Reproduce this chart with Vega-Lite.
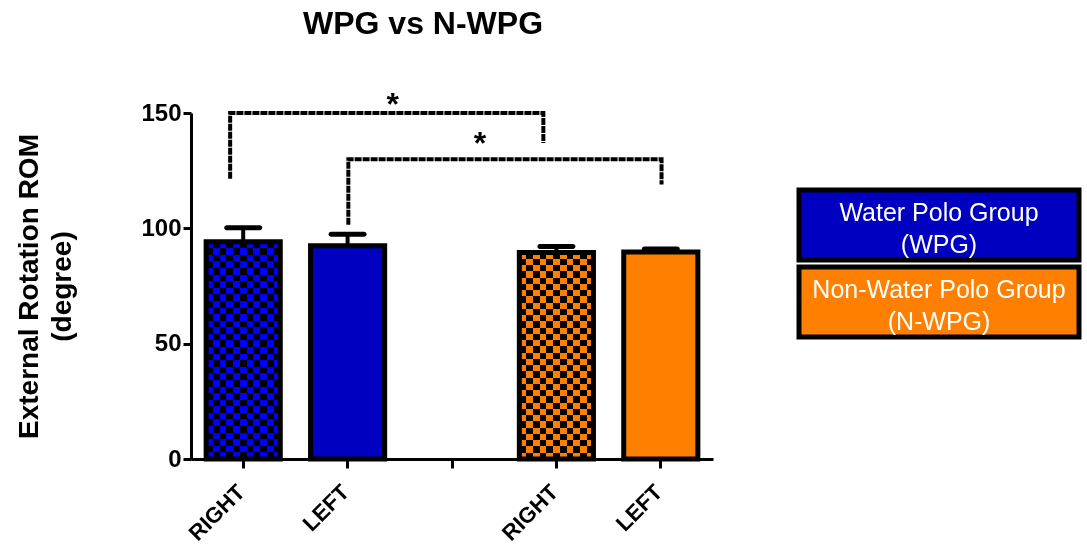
{
  "$schema": "https://vega.github.io/schema/vega-lite/v6.json",
  "background": "white",
  "padding": {"left": 15, "top": 7, "right": 0, "bottom": 0},
  "config": {
    "font": "Liberation Sans",
    "view": {"stroke": null},
    "axis": {"domainColor": "black", "domainWidth": 3, "tickColor": "black", "tickWidth": 3, "labelColor": "black", "labelFontWeight": "bold", "titleColor": "black", "titleFontWeight": "bold", "grid": false},
    "axisY": {"labelFontSize": 24, "tickSize": 8, "labelPadding": 2, "titleFontSize": 28, "titlePadding": 64, "titleLineHeight": 33},
    "axisX": {"labelFontSize": 22, "labelAngle": -45, "tickSize": 9, "labelPadding": 13, "labelOffset": -9}
  },
  "datasets": {
    "bars": [
      {"key": "WPG|RIGHT", "group": "WPG", "mean": 94.2, "hi": 100.2},
      {"key": "WPG|LEFT", "group": "WPG", "mean": 92.5, "hi": 97.4},
      {"key": "N-WPG|RIGHT", "group": "N-WPG", "mean": 89.5, "hi": 92.1},
      {"key": "N-WPG|LEFT", "group": "N-WPG", "mean": 89.7, "hi": 91.0}
    ],
    "brackets": [
      {"pair": 1, "key": "WPG|RIGHT", "val": 121.5, "ord": 1},
      {"pair": 1, "key": "WPG|RIGHT", "val": 150, "ord": 2},
      {"pair": 1, "key": "N-WPG|RIGHT", "val": 150, "ord": 3},
      {"pair": 1, "key": "N-WPG|RIGHT", "val": 137, "ord": 4},
      {"pair": 2, "key": "WPG|LEFT", "val": 101.5, "ord": 1},
      {"pair": 2, "key": "WPG|LEFT", "val": 130, "ord": 2},
      {"pair": 2, "key": "N-WPG|LEFT", "val": 130, "ord": 3},
      {"pair": 2, "key": "N-WPG|LEFT", "val": 119, "ord": 4}
    ],
    "stars": [
      {"pair": 1, "key": "gap", "val": 153.5, "mark": "*"},
      {"pair": 2, "key": "gap", "val": 136.5, "mark": "*"}
    ],
    "groups": [
      {"g": "WPG", "label": "Water Polo Group|(WPG)"},
      {"g": "N-WPG", "label": "Non-Water Polo Group|(N-WPG)"}
    ]
  },
  "spacing": 83,
  "hconcat": [
    {
      "width": 522,
      "height": 346,
      "title": {"text": "WPG vs N-WPG", "fontSize": 32, "fontWeight": "bold", "color": "black", "anchor": "middle", "dx": -29, "offset": 48},
      "data": {"name": "bars"},
      "layer": [
        {
          "mark": {"type": "rule", "strokeWidth": 4, "color": "black"},
          "encoding": {
            "x": {"field": "key", "type": "nominal", "title": null},
            "y": {"field": "mean", "type": "quantitative", "title": ["External Rotation ROM", "(degree)"]},
            "y2": {"field": "hi"}
          }
        },
        {
          "mark": {"type": "tick", "thickness": 5, "size": 38, "color": "black", "opacity": 1, "cornerRadius": 2.5},
          "encoding": {
            "x": {"field": "key", "type": "nominal", "title": null},
            "y": {"field": "hi", "type": "quantitative", "title": ["External Rotation ROM", "(degree)"]}
          }
        },
        {
          "mark": {"type": "bar"},
          "encoding": {
            "x": {"field": "key", "type": "nominal", "title": null,
              "scale": {"domain": ["WPG|RIGHT", "WPG|LEFT", "gap", "N-WPG|RIGHT", "N-WPG|LEFT"], "paddingInner": 0.29, "paddingOuter": 0.145},
              "axis": {"labelExpr": "indexof(datum.value, '|') > 0 ? split(datum.value, '|')[1] : ''"}},
            "y": {"field": "mean", "type": "quantitative", "title": ["External Rotation ROM", "(degree)"],
              "scale": {"domain": [0, 150], "nice": false},
              "axis": {"values": [0, 50, 100, 150]}},
            "color": {"field": "group", "type": "nominal", "scale": {"domain": ["WPG", "N-WPG"], "range": ["#0000C0", "#FF8000"]}, "legend": null}
          }
        },
        {
          "transform": [{"filter": "datum.key == 'WPG|RIGHT'"}],
          "mark": {"type": "bar", "fill": {"gradient": "linear", "x1": 0, "y1": 0, "x2": 1, "y2": 0, "stops": [{"offset":0,"color":"#00f"},{"offset":0.0909,"color":"#00f"},{"offset":0.0909,"color":"#000"},{"offset":0.1818,"color":"#000"},{"offset":0.1818,"color":"#00f"},{"offset":0.2727,"color":"#00f"},{"offset":0.2727,"color":"#000"},{"offset":0.3636,"color":"#000"},{"offset":0.3636,"color":"#00f"},{"offset":0.4545,"color":"#00f"},{"offset":0.4545,"color":"#000"},{"offset":0.5455,"color":"#000"},{"offset":0.5455,"color":"#00f"},{"offset":0.6364,"color":"#00f"},{"offset":0.6364,"color":"#000"},{"offset":0.7273,"color":"#000"},{"offset":0.7273,"color":"#00f"},{"offset":0.8182,"color":"#00f"},{"offset":0.8182,"color":"#000"},{"offset":0.9091,"color":"#000"},{"offset":0.9091,"color":"#00f"},{"offset":1,"color":"#00f"}]}},
          "encoding": {
            "x": {"field": "key", "type": "nominal", "title": null},
            "y": {"field": "mean", "type": "quantitative", "title": ["External Rotation ROM", "(degree)"]}
          }
        },
        {
          "transform": [{"filter": "datum.key == 'WPG|RIGHT'"}],
          "mark": {"type": "bar", "blend": "difference", "fill": {"gradient": "linear", "x1": 0, "y1": 0, "x2": 0, "y2": 1, "stops": [{"offset":0,"color":"#000"},{"offset":0.0303,"color":"#000"},{"offset":0.0303,"color":"#00f"},{"offset":0.0606,"color":"#00f"},{"offset":0.0606,"color":"#000"},{"offset":0.0909,"color":"#000"},{"offset":0.0909,"color":"#00f"},{"offset":0.1212,"color":"#00f"},{"offset":0.1212,"color":"#000"},{"offset":0.1515,"color":"#000"},{"offset":0.1515,"color":"#00f"},{"offset":0.1818,"color":"#00f"},{"offset":0.1818,"color":"#000"},{"offset":0.2121,"color":"#000"},{"offset":0.2121,"color":"#00f"},{"offset":0.2424,"color":"#00f"},{"offset":0.2424,"color":"#000"},{"offset":0.2727,"color":"#000"},{"offset":0.2727,"color":"#00f"},{"offset":0.3030,"color":"#00f"},{"offset":0.3030,"color":"#000"},{"offset":0.3333,"color":"#000"},{"offset":0.3333,"color":"#00f"},{"offset":0.3636,"color":"#00f"},{"offset":0.3636,"color":"#000"},{"offset":0.3939,"color":"#000"},{"offset":0.3939,"color":"#00f"},{"offset":0.4242,"color":"#00f"},{"offset":0.4242,"color":"#000"},{"offset":0.4545,"color":"#000"},{"offset":0.4545,"color":"#00f"},{"offset":0.4848,"color":"#00f"},{"offset":0.4848,"color":"#000"},{"offset":0.5152,"color":"#000"},{"offset":0.5152,"color":"#00f"},{"offset":0.5455,"color":"#00f"},{"offset":0.5455,"color":"#000"},{"offset":0.5758,"color":"#000"},{"offset":0.5758,"color":"#00f"},{"offset":0.6061,"color":"#00f"},{"offset":0.6061,"color":"#000"},{"offset":0.6364,"color":"#000"},{"offset":0.6364,"color":"#00f"},{"offset":0.6667,"color":"#00f"},{"offset":0.6667,"color":"#000"},{"offset":0.6970,"color":"#000"},{"offset":0.6970,"color":"#00f"},{"offset":0.7273,"color":"#00f"},{"offset":0.7273,"color":"#000"},{"offset":0.7576,"color":"#000"},{"offset":0.7576,"color":"#00f"},{"offset":0.7879,"color":"#00f"},{"offset":0.7879,"color":"#000"},{"offset":0.8182,"color":"#000"},{"offset":0.8182,"color":"#00f"},{"offset":0.8485,"color":"#00f"},{"offset":0.8485,"color":"#000"},{"offset":0.8788,"color":"#000"},{"offset":0.8788,"color":"#00f"},{"offset":0.9091,"color":"#00f"},{"offset":0.9091,"color":"#000"},{"offset":0.9394,"color":"#000"},{"offset":0.9394,"color":"#00f"},{"offset":0.9697,"color":"#00f"},{"offset":0.9697,"color":"#000"},{"offset":1,"color":"#000"}]}},
          "encoding": {
            "x": {"field": "key", "type": "nominal", "title": null},
            "y": {"field": "mean", "type": "quantitative", "title": ["External Rotation ROM", "(degree)"]}
          }
        },
        {
          "transform": [{"filter": "datum.key == 'N-WPG|RIGHT'"}],
          "mark": {"type": "bar", "fill": {"gradient": "linear", "x1": 0, "y1": 0, "x2": 1, "y2": 0, "stops": [{"offset":0,"color":"#ff8000"},{"offset":0.0909,"color":"#ff8000"},{"offset":0.0909,"color":"#000"},{"offset":0.1818,"color":"#000"},{"offset":0.1818,"color":"#ff8000"},{"offset":0.2727,"color":"#ff8000"},{"offset":0.2727,"color":"#000"},{"offset":0.3636,"color":"#000"},{"offset":0.3636,"color":"#ff8000"},{"offset":0.4545,"color":"#ff8000"},{"offset":0.4545,"color":"#000"},{"offset":0.5455,"color":"#000"},{"offset":0.5455,"color":"#ff8000"},{"offset":0.6364,"color":"#ff8000"},{"offset":0.6364,"color":"#000"},{"offset":0.7273,"color":"#000"},{"offset":0.7273,"color":"#ff8000"},{"offset":0.8182,"color":"#ff8000"},{"offset":0.8182,"color":"#000"},{"offset":0.9091,"color":"#000"},{"offset":0.9091,"color":"#ff8000"},{"offset":1,"color":"#ff8000"}]}},
          "encoding": {
            "x": {"field": "key", "type": "nominal", "title": null},
            "y": {"field": "mean", "type": "quantitative", "title": ["External Rotation ROM", "(degree)"]}
          }
        },
        {
          "transform": [{"filter": "datum.key == 'N-WPG|RIGHT'"}],
          "mark": {"type": "bar", "blend": "difference", "fill": {"gradient": "linear", "x1": 0, "y1": 0, "x2": 0, "y2": 1, "stops": [{"offset":0,"color":"#000"},{"offset":0.0303,"color":"#000"},{"offset":0.0303,"color":"#ff8000"},{"offset":0.0606,"color":"#ff8000"},{"offset":0.0606,"color":"#000"},{"offset":0.0909,"color":"#000"},{"offset":0.0909,"color":"#ff8000"},{"offset":0.1212,"color":"#ff8000"},{"offset":0.1212,"color":"#000"},{"offset":0.1515,"color":"#000"},{"offset":0.1515,"color":"#ff8000"},{"offset":0.1818,"color":"#ff8000"},{"offset":0.1818,"color":"#000"},{"offset":0.2121,"color":"#000"},{"offset":0.2121,"color":"#ff8000"},{"offset":0.2424,"color":"#ff8000"},{"offset":0.2424,"color":"#000"},{"offset":0.2727,"color":"#000"},{"offset":0.2727,"color":"#ff8000"},{"offset":0.3030,"color":"#ff8000"},{"offset":0.3030,"color":"#000"},{"offset":0.3333,"color":"#000"},{"offset":0.3333,"color":"#ff8000"},{"offset":0.3636,"color":"#ff8000"},{"offset":0.3636,"color":"#000"},{"offset":0.3939,"color":"#000"},{"offset":0.3939,"color":"#ff8000"},{"offset":0.4242,"color":"#ff8000"},{"offset":0.4242,"color":"#000"},{"offset":0.4545,"color":"#000"},{"offset":0.4545,"color":"#ff8000"},{"offset":0.4848,"color":"#ff8000"},{"offset":0.4848,"color":"#000"},{"offset":0.5152,"color":"#000"},{"offset":0.5152,"color":"#ff8000"},{"offset":0.5455,"color":"#ff8000"},{"offset":0.5455,"color":"#000"},{"offset":0.5758,"color":"#000"},{"offset":0.5758,"color":"#ff8000"},{"offset":0.6061,"color":"#ff8000"},{"offset":0.6061,"color":"#000"},{"offset":0.6364,"color":"#000"},{"offset":0.6364,"color":"#ff8000"},{"offset":0.6667,"color":"#ff8000"},{"offset":0.6667,"color":"#000"},{"offset":0.6970,"color":"#000"},{"offset":0.6970,"color":"#ff8000"},{"offset":0.7273,"color":"#ff8000"},{"offset":0.7273,"color":"#000"},{"offset":0.7576,"color":"#000"},{"offset":0.7576,"color":"#ff8000"},{"offset":0.7879,"color":"#ff8000"},{"offset":0.7879,"color":"#000"},{"offset":0.8182,"color":"#000"},{"offset":0.8182,"color":"#ff8000"},{"offset":0.8485,"color":"#ff8000"},{"offset":0.8485,"color":"#000"},{"offset":0.8788,"color":"#000"},{"offset":0.8788,"color":"#ff8000"},{"offset":0.9091,"color":"#ff8000"},{"offset":0.9091,"color":"#000"},{"offset":0.9394,"color":"#000"},{"offset":0.9394,"color":"#ff8000"},{"offset":0.9697,"color":"#ff8000"},{"offset":0.9697,"color":"#000"},{"offset":1,"color":"#000"}]}},
          "encoding": {
            "x": {"field": "key", "type": "nominal", "title": null},
            "y": {"field": "mean", "type": "quantitative", "title": ["External Rotation ROM", "(degree)"]}
          }
        },
        {
          "mark": {"type": "bar", "fillOpacity": 0, "stroke": "black", "strokeWidth": 5},
          "encoding": {
            "x": {"field": "key", "type": "nominal", "title": null},
            "y": {"field": "mean", "type": "quantitative", "title": ["External Rotation ROM", "(degree)"]}
          }
        },
        {
          "data": {"name": "brackets"},
          "transform": [{"filter": "datum.pair == 1"}],
          "mark": {"type": "line", "color": "black", "strokeWidth": 4, "strokeDash": [7, 1]},
          "encoding": {
            "x": {"field": "key", "type": "nominal", "title": null, "bandPosition": 0.324},
            "y": {"field": "val", "type": "quantitative", "title": ["External Rotation ROM", "(degree)"]},
            "order": {"field": "ord"}
          }
        },
        {
          "data": {"name": "brackets"},
          "transform": [{"filter": "datum.pair == 2"}],
          "mark": {"type": "line", "color": "black", "strokeWidth": 4, "strokeDash": [7, 1]},
          "encoding": {
            "x": {"field": "key", "type": "nominal", "title": null, "bandPosition": 0.51},
            "y": {"field": "val", "type": "quantitative", "title": ["External Rotation ROM", "(degree)"]},
            "order": {"field": "ord"}
          }
        },
        {
          "data": {"name": "stars"},
          "transform": [{"filter": "datum.pair == 1"}],
          "mark": {"type": "text", "fontSize": 32, "fontWeight": "bold", "color": "black", "baseline": "middle"},
          "encoding": {
            "x": {"field": "key", "type": "nominal", "title": null, "bandPosition": -0.3},
            "y": {"field": "val", "type": "quantitative", "title": ["External Rotation ROM", "(degree)"]},
            "text": {"field": "mark"}
          }
        },
        {
          "data": {"name": "stars"},
          "transform": [{"filter": "datum.pair == 2"}],
          "mark": {"type": "text", "fontSize": 32, "fontWeight": "bold", "color": "black", "baseline": "middle"},
          "encoding": {
            "x": {"field": "key", "type": "nominal", "title": null, "bandPosition": 0.876},
            "y": {"field": "val", "type": "quantitative", "title": ["External Rotation ROM", "(degree)"]},
            "text": {"field": "mark"}
          }
        }
      ]
    },
    {
      "width": 280,
      "height": 301,
      "data": {"name": "groups"},
      "encoding": {
        "y": {"field": "g", "type": "nominal", "axis": null,
          "scale": {"domain": ["WPG", "N-WPG"], "paddingInner": 0.09, "paddingOuter": 1, "align": 0.5}}
      },
      "layer": [
        {
          "mark": {"type": "rect", "stroke": "black", "strokeWidth": 5},
          "encoding": {
            "color": {"field": "g", "type": "nominal", "scale": {"domain": ["WPG", "N-WPG"], "range": ["#0000C0", "#FF6600"]}, "legend": null}
          }
        },
        {
          "mark": {"type": "text", "color": "white", "fontSize": 25, "lineBreak": "|", "lineHeight": 32, "baseline": "middle", "dy": -12},
          "encoding": {"text": {"field": "label"}}
        }
      ]
    }
  ]
}
